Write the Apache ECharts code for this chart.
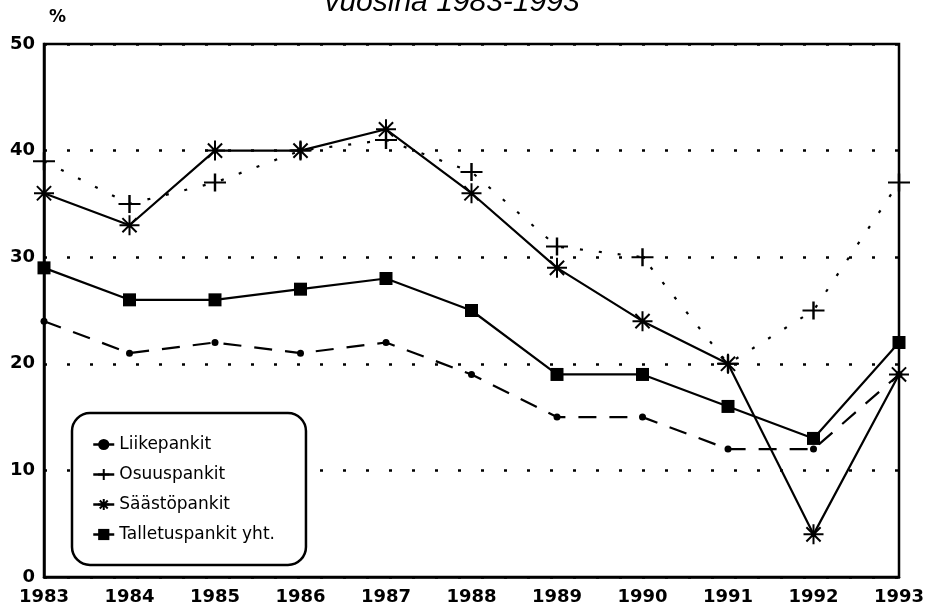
<!DOCTYPE html>
<html>
<head>
<meta charset="utf-8">
<script src="https://cdn.jsdelivr.net/npm/echarts@6/dist/echarts.min.js"></script>
<style>
  html, body { margin: 0; padding: 0; background: #fff; }
  #chart { width: 928px; height: 608px; }
</style>
</head>
<body>
<div id="chart"></div>
<script>
// vuodet ja sarjat
const years = ['1983', '1984', '1985', '1986', '1987', '1988', '1989', '1990', '1991', '1992', '1993']
const liikepankit = [24, 21, 22, 21, 22, 19, 15, 15, 12, 12, 19]
const osuuspankit = [39, 35, 37, 40, 41, 38, 31, 30, 20, 25, 37]
const saastopankit = [36, 33, 40, 40, 42, 36, 29, 24, 20, 4, 19]
const talletuspankit = [29, 26, 26, 27, 28, 25, 19, 19, 16, 13, 22]
const yTicks = { min: 0, max: 50, interval: 10 }

const font = 'DejaVu Sans'
const plusPath = 'path://M0,9 L22,9 M11,0 L11,18'
const starPath = 'path://M0,10 L20,10 M10,0 L10,20 M2.9,2.9 L17.1,17.1 M17.1,2.9 L2.9,17.1'

let myChart = echarts.init(document.getElementById('chart'))
let option = {
    animation: false,
    backgroundColor: '#fff',
    grid: {
        left: 44,
        right: 29,
        top: 44,
        bottom: 31,
        show: true,
        borderColor: '#000',
        borderWidth: 2.5
    },
    graphic: [
        {
            type: 'text',
            x: 452,
            y: 3,
            style: {
                text: 'vuosina 1983-1993',
                fontFamily: 'Liberation Sans',
                fontStyle: 'italic',
                fontSize: 30,
                fill: '#000',
                textAlign: 'center',
                textVerticalAlign: 'middle'
            }
        },
        {
            type: 'text',
            x: 49,
            y: 9,
            style: {
                text: '%',
                fontFamily: font,
                fontWeight: 'bold',
                fontSize: 17,
                fill: '#000'
            }
        }
    ],
    legend: {
        orient: 'vertical',
        left: 72,
        top: 413,
        padding: [23, 31, 22, 20],
        itemWidth: 21,
        itemHeight: 14,
        itemGap: 13,
        borderColor: '#000',
        borderWidth: 2.5,
        borderRadius: 18,
        backgroundColor: '#fff',
        lineStyle: { type: 'solid', width: 2.5 },
        textStyle: { fontFamily: font, fontSize: 17, color: '#000' },
        data: ['Liikepankit', 'Osuuspankit', 'Säästöpankit', 'Talletuspankit yht.']
    },
    xAxis: {
        type: 'category',
        boundaryGap: false,
        data: years,
        axisLine: { lineStyle: { color: '#000', width: 2.5 } },
        axisTick: { show: false },
        axisLabel: { margin: 11, fontFamily: font, fontWeight: 'bold', fontSize: 18, color: '#000' },
        splitLine: { show: false }
    },
    yAxis: {
        type: 'value',
        min: yTicks.min,
        max: yTicks.max,
        interval: yTicks.interval,
        axisLine: { show: true, lineStyle: { color: '#000', width: 2.5 } },
        axisTick: { show: false },
        axisLabel: { margin: 9, fontFamily: font, fontWeight: 'bold', fontSize: 18, color: '#000' },
        splitLine: { show: true, lineStyle: { color: '#000', width: 2.5, type: [3, 20] } }
    },
    series: [
        {
            name: 'Liikepankit',
            type: 'line',
            data: liikepankit,
            symbol: 'circle',
            symbolSize: 7,
            itemStyle: { color: '#000' },
            lineStyle: { color: '#000', width: 2.2, type: [18, 13] }
        },
        {
            name: 'Osuuspankit',
            type: 'line',
            data: osuuspankit,
            symbol: plusPath,
            symbolSize: [22, 18],
            itemStyle: { color: '#000', borderColor: '#000', borderWidth: 2.2 },
            lineStyle: { color: '#000', width: 2.2, type: [3, 16] }
        },
        {
            name: 'Säästöpankit',
            type: 'line',
            data: saastopankit,
            symbol: starPath,
            symbolSize: 20,
            itemStyle: { color: '#000', borderColor: '#000', borderWidth: 2 },
            lineStyle: { color: '#000', width: 2.2 }
        },
        {
            name: 'Talletuspankit yht.',
            type: 'line',
            data: talletuspankit,
            symbol: 'rect',
            symbolSize: 13,
            itemStyle: { color: '#000' },
            lineStyle: { color: '#000', width: 2.2 }
        }
    ]
}
myChart.setOption(option)
</script>
</body>
</html>
